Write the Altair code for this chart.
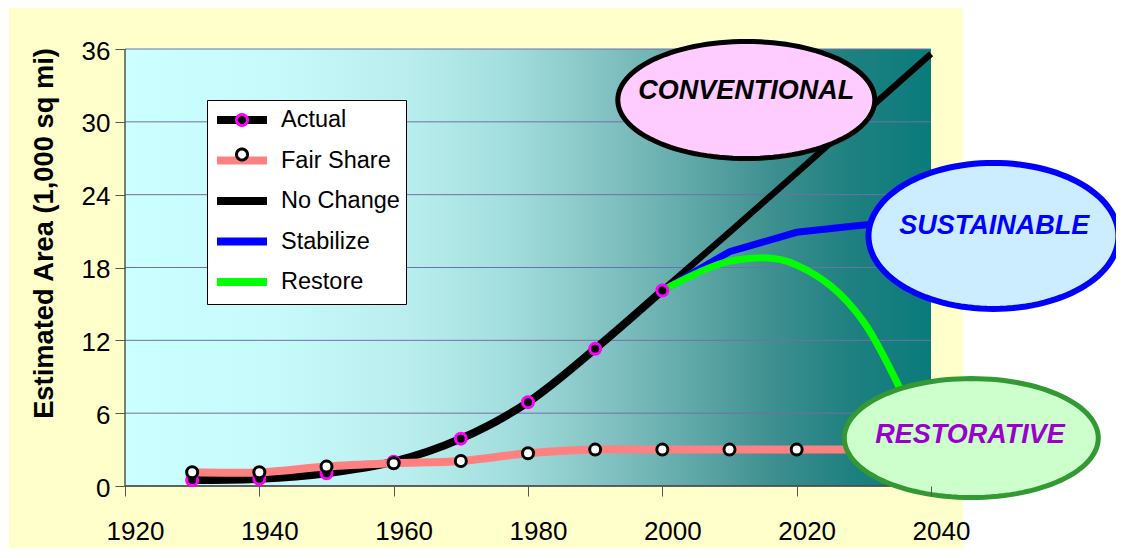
import math
import altair as alt
import pandas as pd

# ---------------- data ----------------
years_actual = [1930, 1940, 1950, 1960, 1970, 1980, 1990, 2000]
actual = [0.5, 0.6, 1.05, 2.0, 3.9, 6.9, 11.3, 16.1]

years_fair = [1930, 1940, 1950, 1960, 1970, 1980, 1990, 2000, 2010, 2020, 2030, 2040]
fair_share = [1.13, 1.13, 1.6, 1.87, 2.06, 2.7, 3.0, 3.0, 3.0, 3.0, 3.0, 3.0]

years_proj = [2000, 2010, 2020, 2030, 2040]
no_change = [16.1, 20.9, 25.8, 30.7, 35.6]
stabilize = [16.1, 19.3, 20.9, 21.5, 22.0]
restore = [16.1, 18.5, 18.2, 13.5, 2.5]

series_names = ["Actual", "Fair Share", "No Change", "Stabilize", "Restore"]
series_colors = ["#000000", "#FF8080", "#000000", "#0000FF", "#00FF00"]

x_ticks = [1920, 1940, 1960, 1980, 2000, 2020, 2040]
y_ticks = [0, 6, 12, 18, 24, 30, 36]

bubble_labels = ["CONVENTIONAL", "SUSTAINABLE", "RESTORATIVE"]
bubble_year = [2012.5, 2049.3, 2046.0]
bubble_value = [31.8, 20.6, 3.95]
label_year = [2012.5, 2049.4, 2045.8]
label_value = [32.5, 21.4, 4.2]

# ---------------- styles ----------------
FONT = "Liberation Sans"
W, H = 806, 437
bubble_style = [
    dict(rx=128.5, ry=58.5, sw=5, fill="#FFCCFF", stroke="#000000", text="#000000"),
    dict(rx=125, ry=73, sw=6, fill="#CCECFF", stroke="#0000FF", text="#0000FF"),
    dict(rx=127, ry=59.5, sw=5, fill="#CCFFCC", stroke="#339933", text="#9900CC"),
]
grad_stops = [
    (0.00, "#CCFFFF"), (0.20, "#C6F9F9"), (0.35, "#BAEEEE"), (0.48, "#A2DDDD"),
    (0.58, "#88C6C6"), (0.68, "#68AEAE"), (0.80, "#3F9090"), (0.90, "#1F8080"),
    (1.00, "#0A7B7B"),
]

xscale = alt.Scale(domain=[x_ticks[0], x_ticks[-1]], nice=False, zero=False)
yscale = alt.Scale(domain=[y_ticks[0], y_ticks[-1]], nice=False)
xaxis = alt.Axis(values=x_ticks, format="d", title=None, grid=False, domain=False,
                 tickSize=10, tickColor="#555555", tickWidth=1,
                 labelFont=FONT, labelFontSize=26, labelColor="black",
                 labelPadding=22, labelOffset=10, labelFlush=False, labelOverlap=False,
                 zindex=1)
yaxis = alt.Axis(values=y_ticks, title="Estimated Area (1,000 sq mi)", grid=False, domain=False,
                 tickSize=10, tickColor="#555555", tickWidth=1,
                 labelFont=FONT, labelFontSize=26, labelColor="black",
                 labelPadding=5, labelOffset=2, labelOverlap=False,
                 titleFont=FONT, titleFontSize=27.3, titleFontWeight="bold", titleColor="black",
                 titleX=-73, titleY=184, titleAngle=270, titleBaseline="alphabetic",
                 titleAlign="center", zindex=1)


def X(f):
    return alt.X(f"{f}:Q", scale=xscale, axis=xaxis)


def Y(f):
    return alt.Y(f"{f}:Q", scale=yscale, axis=yaxis)


def poly_path(rx, ry, n=120):
    pts = []
    for i in range(n):
        t = 2 * math.pi * i / n
        pts.append(f"{rx * math.cos(t):.4f},{ry * math.sin(t):.4f}")
    return "M" + " L".join(pts) + " Z"


# ---------------- tables ----------------
df_actual = pd.DataFrame({"year": years_actual, "value": actual, "series": "Actual"})
df_fair = pd.DataFrame({"year": years_fair, "value": fair_share, "series": "Fair Share"})
df_nc = pd.DataFrame({"year": years_proj, "value": no_change, "series": "No Change"})
df_st = pd.DataFrame({"year": years_proj, "value": stabilize, "series": "Stabilize"})
df_re = pd.DataFrame({"year": years_proj, "value": restore, "series": "Restore"})
df_pts = pd.concat([df_actual, df_fair], ignore_index=True)
df_frame = pd.DataFrame({"x0": [x_ticks[0]], "x1": [x_ticks[-1]], "y0": [y_ticks[0]], "y1": [y_ticks[-1]]})
df_grid = pd.DataFrame({"v": y_ticks, "x0": x_ticks[0], "x1": x_ticks[-1]})

# ---------------- layers ----------------
yellow = alt.Chart(df_frame).mark_rect(fill="#FFFFCC").encode(
    x=alt.value(-116), x2=alt.value(838), y=alt.value(-43), y2=alt.value(499))

bg = alt.Chart(df_frame).mark_rect(
    fill=alt.Gradient(gradient="linear", x1=0, x2=1, y1=0, y2=0,
                      stops=[alt.GradientStop(offset=o, color=c) for o, c in grad_stops])
).encode(x=X("x0"), x2="x1", y=Y("y0"), y2="y1")

grid = alt.Chart(df_grid).mark_rule(color="#7070A8", strokeWidth=1).encode(
    y=Y("v"), x=X("x0"), x2="x1")

left_dom = alt.Chart(df_frame).mark_rule(color="#555555", strokeWidth=1.5).encode(
    x=X("x0"), y=Y("y0"), y2="y1")
bottom_dom = alt.Chart(df_frame).mark_rule(color="#444444", strokeWidth=1.5).encode(
    y=Y("y0"), x=X("x0"), x2="x1")

stroke_scale = alt.Scale(domain=series_names, range=series_colors)

# legend geometry: both legends share the same layout so their rows line up
LEG = dict(title=None, orient="none", legendX=82, legendY=51,
           labelFont=FONT, labelFontSize=23.5, labelColor="black", labelOffset=25,
           symbolOffset=15, padding=6, rowPadding=8.5)
line_legend = alt.Legend(
    symbolType="M-2.5,0 L2.5,0", symbolSize=400, symbolStrokeWidth=8,
    fillColor="white", strokeColor="black", **LEG)
pt_legend = alt.Legend(
    symbolType=poly_path(0.44, 0.44, 48), symbolSize=625, symbolStrokeWidth=3,
    labelOpacity=0, labelExpr="' '", **LEG)


def line(df, width, interp, legend=None):
    if legend is None:
        s = alt.Stroke("series:N", scale=stroke_scale, legend=None)
    else:
        s = alt.Stroke("series:N", scale=stroke_scale, legend=legend)
    return alt.Chart(df).mark_line(strokeWidth=width, interpolate=interp, strokeCap="butt").encode(
        x=X("year"), y=Y("value"), stroke=s)


lines_a = alt.layer(
    line(df_actual, 8, "cardinal"),
    line(df_fair, 8, "cardinal"),
)
lines_b = alt.layer(
    line(df_nc, 6.5, "linear", line_legend),
    line(df_st, 7, "linear", line_legend),
    line(df_re, 7, "cardinal", line_legend),
)
points = alt.Chart(df_pts).mark_point(shape="circle", filled=True, size=121, strokeWidth=3, opacity=1).encode(
    x=X("year"), y=Y("value"),
    fill=alt.Fill("series:N", scale=alt.Scale(domain=series_names[:2], range=["#000000", "#FFFFFF"]), legend=pt_legend),
    stroke=alt.Stroke("series:N", scale=alt.Scale(domain=series_names[:2], range=["#FF00FF", "#000000"]), legend=pt_legend),
)

bubbles = []
for i, lab in enumerate(bubble_labels):
    st = bubble_style[i]
    dfe = pd.DataFrame({"year": [bubble_year[i]], "value": [bubble_value[i]]})
    dft = pd.DataFrame({"year": [label_year[i]], "value": [label_value[i]], "label": [lab]})
    bubbles.append(
        alt.Chart(dfe).mark_point(
            shape=poly_path(1.0, st["ry"] / st["rx"]), size=(2 * st["rx"]) ** 2,
            filled=True, fill=st["fill"], stroke=st["stroke"], strokeWidth=st["sw"], opacity=1,
        ).encode(x=X("year"), y=Y("value"))
    )
    bubbles.append(
        alt.Chart(dft).mark_text(
            font=FONT, fontSize=27, fontWeight="bold", fontStyle="italic",
            color=st["text"], align="center", baseline="middle",
        ).encode(x=X("year"), y=Y("value"), text="label:N")
    )

chart = alt.layer(
    yellow, bg, grid, left_dom, bottom_dom, lines_a, lines_b, points, *bubbles
).resolve_scale(
    stroke="independent", fill="independent"
).properties(
    width=W, height=H,
    autosize=alt.AutoSizeParams(type="none"),
    padding={"left": 117, "top": 41, "right": 185, "bottom": 64},
    background="#FFFFFF",
).configure_view(strokeWidth=0)

chart.save("out.html", embed_options={"renderer": "svg", "actions": False})
